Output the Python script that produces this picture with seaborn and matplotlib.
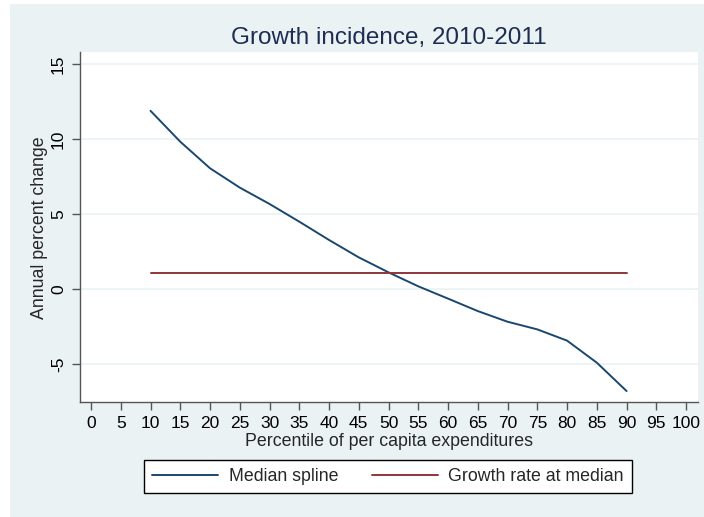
import numpy as np
import pandas as pd
import matplotlib
matplotlib.use("Agg")
import matplotlib.pyplot as plt
from matplotlib.patches import Rectangle
import seaborn as sns

# Data
percentiles = [10, 15, 20, 25, 30, 35, 40, 45, 50, 55, 60, 65, 70, 75, 80, 85, 90]
median_spline = [11.9, 9.84, 8.07, 6.78, 5.69, 4.51, 3.29, 2.13, 1.13, 0.2,
                 -0.62, -1.45, -2.16, -2.67, -3.42, -4.89, -6.78]
growth_at_median = 1.07
x_ticks = list(range(0, 101, 5))
y_ticks = [-5, 0, 5, 10, 15]

title = "Growth incidence, 2010-2011"
xlabel = "Percentile of per capita expenditures"
ylabel = "Annual percent change"
labels = ["Median spline", "Growth rate at median"]

df = pd.DataFrame({
    "pct": percentiles * 2,
    "val": median_spline + [growth_at_median] * len(percentiles),
    "series": [labels[0]] * len(percentiles) + [labels[1]] * len(percentiles),
})

sns.set_theme(style="white")
plt.rcParams["font.family"] = ["Liberation Sans", "DejaVu Sans"]

W, H = 704, 517
fig = plt.figure(figsize=(W / 100, H / 100), dpi=100, facecolor="white")
bg = "#EAF2F3"
fig.patches.append(Rectangle((10 / W, 0), 1 - 10 / W, (H - 4) / H,
                             transform=fig.transFigure, facecolor=bg,
                             edgecolor="none", zorder=-10))

ax = fig.add_axes([80 / W, 1 - 402 / H, (698 - 80) / W, (402 - 52.3) / H])
ax.set_facecolor("white")

palette = {labels[0]: "#1a476f", labels[1]: "#90353b"}
sns.lineplot(data=df, x="pct", y="val", hue="series", palette=palette,
             ax=ax, linewidth=1.4, legend=False, estimator=None)

ax.set_xlim(-1.85, 102)
ax.set_ylim(-7.51, 15.8)
ax.set_xticks(x_ticks)
ax.set_yticks(y_ticks)
ax.set_xticklabels([str(t) for t in x_ticks], fontsize=12.5)
ax.set_yticklabels([str(t) for t in y_ticks], fontsize=12.5, rotation=90, va="center")
ax.grid(axis="y", color=bg, linewidth=1.2)
ax.grid(axis="x", visible=False)
ax.set_axisbelow(True)

for s in ["top", "right"]:
    ax.spines[s].set_visible(False)
for s in ["left", "bottom"]:
    ax.spines[s].set_color("#555555")
    ax.spines[s].set_linewidth(1.0)
ax.tick_params(axis="both", direction="out", length=6, width=1.0,
               color="#555555", labelcolor="black", pad=4,
               left=True, bottom=True)

ax.set_xlabel("")
ax.set_ylabel("")
fig.text(389 / W, 1 - 441 / H, xlabel, ha="center", va="center", fontsize=12.8)
fig.text(40 / W, 1 - 228 / H, ylabel, ha="center", va="center", fontsize=12.8, rotation=90)
fig.text(389 / W, 1 - 38 / H, title, ha="center", va="center", fontsize=17.5,
         color="#1e2d53")

handles = ax.get_lines()[:2]
leg = fig.legend(handles, labels, loc="center", ncol=2,
                 bbox_to_anchor=(388 / W, 1 - 476.5 / H),
                 frameon=True, fancybox=False, fontsize=12.8,
                 handlelength=3.7, columnspacing=1.9, handletextpad=0.6,
                 borderpad=0.45, borderaxespad=0)
leg.get_frame().set_edgecolor("black")
leg.get_frame().set_linewidth(1.0)
leg.get_frame().set_facecolor("white")
leg.get_frame().set_alpha(1.0)

fig.savefig("out.png", dpi=100, facecolor="white")
